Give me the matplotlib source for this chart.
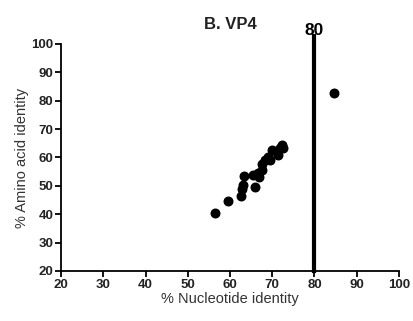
import matplotlib.pyplot as plt

plt.rcParams['font.family'] = ['Liberation Sans', 'DejaVu Sans']

# % nucleotide identity vs % amino acid identity (VP4)
nt_identity = [56.4, 59.6, 62.5, 62.8, 63.0, 63.2, 65.9, 65.5, 66.7, 66.9, 67.5, 67.5,
               68.3, 69.5, 69.1, 69.9, 71.1, 71.4, 72.2, 72.6, 71.8, 84.6]
aa_identity = [40.3, 44.8, 46.5, 48.8, 50.3, 53.5, 49.5, 53.8, 54.4, 53.0, 55.6, 57.7,
               59.1, 59.1, 60.2, 62.6, 62.0, 60.8, 64.4, 63.2, 63.2, 82.7]
cutoff = 80
x_ticks = [20, 30, 40, 50, 60, 70, 80, 90, 100]
y_ticks = [20, 30, 40, 50, 60, 70, 80, 90, 100]

fig = plt.figure(figsize=(4.13, 3.21), dpi=100)
ax = fig.add_axes([0.148, 0.156, 0.818, 0.707])

ax.scatter(nt_identity, aa_identity, s=38, color='black', zorder=3, clip_on=False)

# cutoff line with label
ax.plot([cutoff, cutoff], [20, 102.8], color='black', linewidth=3, clip_on=False, zorder=2)
ax.text(cutoff, 102.2, str(cutoff), ha='center', va='bottom', fontsize=12.5,
        fontweight='bold')

ax.set_xlim(20, 100)
ax.set_ylim(20, 100)
ax.set_xticks(x_ticks)
ax.set_yticks(y_ticks)
for lab in ax.get_xticklabels() + ax.get_yticklabels():
    lab.set_fontweight('bold')
    lab.set_color('#222222')
ax.tick_params(labelsize=9.5, length=4, width=1.3, direction='out', pad=1.5)

ax.spines['top'].set_visible(False)
ax.spines['right'].set_visible(False)
ax.spines['left'].set_linewidth(1.3)
ax.spines['bottom'].set_linewidth(1.3)

ax.set_xlabel('% Nucleotide identity', fontsize=10.5, color='#333333', labelpad=1)
ax.set_ylabel('% Amino acid identity', fontsize=10.5, color='#333333', labelpad=2)
ax.set_title('B. VP4', fontsize=12, fontweight='bold', pad=11, color='#222222')

fig.savefig('out.png', dpi=100)
